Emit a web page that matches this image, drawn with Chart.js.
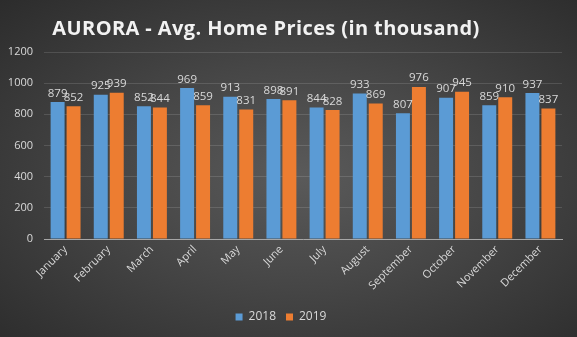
<!DOCTYPE html>
<html>
<head>
<meta charset="utf-8">
<script src="https://cdn.jsdelivr.net/npm/chart.js@4.4.1/dist/chart.umd.min.js"></script>
<style>
  html, body { margin: 0; padding: 0; }
  body {
    width: 577px; height: 337px; overflow: hidden;
    background: radial-gradient(ellipse at 52% 52%, #5a5a5a 0%, #464646 45%, #2c2c2c 100%);
  }
  canvas { display: block; }
</style>
</head>
<body>
<canvas id="homeChart" width="577" height="337"></canvas>
<script>
var chartTitle = "AURORA - Avg. Home Prices (in thousand)";
var months = ["January", "February", "March", "April", "May", "June",
  "July", "August", "September", "October", "November", "December"];
var prices2018 = [879, 925, 852, 969, 913, 898, 844, 933, 807, 907, 859, 937];
var prices2019 = [852, 939, 844, 859, 831, 891, 828, 869, 976, 945, 910, 837];
var seriesNames = ["2018", "2019"];
var yTicks = [0, 200, 400, 600, 800, 1000, 1200];

var textColor = "#d9d9d9";
var fontFamily = "'Open Sans', 'Liberation Sans', sans-serif";

// title drawn centred a bit left of canvas middle, like the original
var titlePlugin = {
  id: "titleText",
  afterDraw: function (chart) {
    var ctx = chart.ctx;
    ctx.save();
    ctx.fillStyle = "#f2f2f2";
    ctx.font = "bold 20px " + fontFamily;
    ctx.letterSpacing = "0.4px";
    ctx.textAlign = "center";
    ctx.textBaseline = "middle";
    ctx.fillText(chartTitle, 266, 29);
    ctx.restore();
  }
};

// value labels above each bar
var valueLabels = {
  id: "valueLabels",
  afterDatasetsDraw: function (chart) {
    var ctx = chart.ctx;
    ctx.save();
    ctx.fillStyle = textColor;
    ctx.font = "11.5px " + fontFamily;
    ctx.textAlign = "center";
    ctx.textBaseline = "bottom";
    chart.data.datasets.forEach(function (ds, i) {
      chart.getDatasetMeta(i).data.forEach(function (bar, j) {
        ctx.fillText(ds.data[j], bar.x, bar.y - 3);
      });
    });
    ctx.restore();
  }
};

var ctx = document.getElementById("homeChart").getContext("2d");
var homeChart = new Chart(ctx, {
  type: "bar",
  data: {
    labels: months,
    datasets: [
      {
        label: seriesNames[0],
        data: prices2018,
        backgroundColor: "#5b9bd5",
        barPercentage: 0.875,
        categoryPercentage: 0.74
      },
      {
        label: seriesNames[1],
        data: prices2019,
        backgroundColor: "#ed7d31",
        barPercentage: 0.875,
        categoryPercentage: 0.74
      }
    ]
  },
  options: {
    responsive: false,
    animation: false,
    layout: { padding: { top: 52, right: 15, left: 0, bottom: 4 } },
    scales: {
      x: {
        grid: { display: false, drawTicks: false },
        border: { display: true, color: "#a6a6a6", width: 1 },
        ticks: {
          color: textColor,
          font: { family: fontFamily, size: 11 },
          minRotation: 45,
          maxRotation: 45,
          padding: 4
        },
        afterFit: function (scale) { scale.height = 62; }
      },
      y: {
        min: 0,
        max: 1200,
        afterBuildTicks: function (scale) {
          scale.ticks = yTicks.map(function (v) { return { value: v }; });
        },
        grid: { color: "rgba(255,255,255,0.13)", drawTicks: false },
        border: { display: false },
        ticks: {
          color: textColor,
          font: { family: fontFamily, size: 11 },
          padding: 11,
          callback: function (v) { return String(v); }
        },
        afterFit: function (scale) { scale.width = 44; }
      }
    },
    plugins: {
      title: { display: false },
      tooltip: { enabled: false },
      legend: {
        position: "bottom",
        labels: {
          color: textColor,
          font: { family: fontFamily, size: 12 },
          boxWidth: 7,
          boxHeight: 7,
          padding: 10
        }
      }
    }
  },
  plugins: [titlePlugin, valueLabels]
});
</script>
</body>
</html>
